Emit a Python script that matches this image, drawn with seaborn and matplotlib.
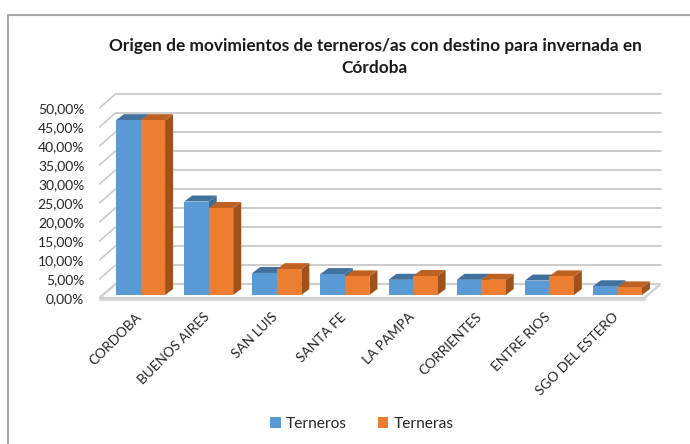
import numpy as np
import pandas as pd
import seaborn as sns
import matplotlib
matplotlib.use("Agg")
import matplotlib.pyplot as plt
from matplotlib.patches import Polygon, Rectangle
from matplotlib.lines import Line2D
from matplotlib.transforms import ScaledTranslation, IdentityTransform
from matplotlib.ticker import FuncFormatter

categories = ["CORDOBA", "BUENOS AIRES", "SAN LUIS", "SANTA FE", "LA PAMPA",
              "CORRIENTES", "ENTRE RIOS", "SGO DEL ESTERO"]
terneros = [46.0, 24.6, 5.8, 5.5, 4.0, 4.0, 3.8, 2.3]
terneras = [46.0, 22.9, 6.8, 4.9, 5.0, 4.0, 4.9, 2.0]
series_names = ["Terneros", "Terneras"]
yticks = [0, 5, 10, 15, 20, 25, 30, 35, 40, 45, 50]
title = "Origen de movimientos de terneros/as con destino para invernada en\nCórdoba"

colors = {"Terneros": "#5B9BD5", "Terneras": "#ED7D31"}
dark_top = {"Terneros": "#41719C", "Terneras": "#BE6224"}
dark_side = {"Terneros": "#3E6D97", "Terneras": "#A0521C"}

df = pd.DataFrame({
    "Origen": categories * 2,
    "Serie": [series_names[0]] * len(categories) + [series_names[1]] * len(categories),
    "Valor": terneros + terneras,
})

sns.set_theme(style="white")
plt.rcParams["font.family"] = ["Lato", "DejaVu Sans"]

W, H = 690, 444
fig = plt.figure(figsize=(W / 100, H / 100), dpi=100)
fig.patch.set_facecolor("white")

left_px, right_px = 106.5, 651.5
y0_px, y50_px = 295, 105
ax = fig.add_axes([left_px / W, (H - y0_px) / H, (right_px - left_px) / W, (y0_px - y50_px) / H])
ax.set_facecolor("none")

sns.barplot(data=df, x="Origen", y="Valor", hue="Serie", palette=colors,
            width=0.72, gap=0, saturation=1, ax=ax, legend=False,
            linewidth=0)
ax.set_xlim(-0.5, len(categories) - 0.5)
ax.set_ylim(0, 50)
ax.set_yticks(yticks)
ax.yaxis.set_major_formatter(FuncFormatter(lambda v, p: f"{v:.2f}%".replace(".", ",")))
ax.set_xlabel("")
ax.set_ylabel("")
for s in ax.spines.values():
    s.set_visible(False)
ax.tick_params(axis="both", length=0)
ax.tick_params(axis="y", labelsize=10, colors="#262626", pad=16)
ax.tick_params(axis="x", labelsize=9.8, colors="#262626", pad=0)
for lab in ax.get_xticklabels():
    lab.set_rotation(45)
    lab.set_ha("right")
    lab.set_va("center")
    lab.set_rotation_mode("anchor")
    lab.set_transform(lab.get_transform() + ScaledTranslation(-1 / 100, -20 / 100, fig.dpi_scale_trans))
for lab in ax.get_yticklabels():
    lab.set_transform(lab.get_transform() + ScaledTranslation(0, -3 / 100, fig.dpi_scale_trans))

front = np.array([-7.0, -3.0])
back = np.array([9.0, 11.0])
grid_c = "#C8C8C8"

def disp(x, y):
    return ax.transData.transform((x, y))

xl, xr = ax.get_xlim()
for v in yticks:
    pl = disp(xl, v)
    pr = disp(xr, v)
    fl = pl + front
    bl = pl + back
    br = pr + back
    if v > 0:
        fig.add_artist(Line2D([bl[0], br[0]], [bl[1], br[1]], transform=IdentityTransform(),
                              color=grid_c, lw=1.3, zorder=1))
    fig.add_artist(Line2D([fl[0], bl[0]], [fl[1], bl[1]], transform=IdentityTransform(),
                          color=grid_c, lw=1.1, zorder=1))
pl = disp(xl, 0); pr = disp(xr, 0)
floor = Polygon([pl + front, pr + front, pr + back, pl + back], closed=True,
                transform=IdentityTransform(), facecolor="white", edgecolor="#CFCFCF",
                lw=1.6, zorder=1)
fig.add_artist(floor)
fig.add_artist(Line2D([(pl + front)[0], (pr + front)[0]], [(pl + front)[1] - 1.5, (pr + front)[1] - 1.5],
                      transform=IdentityTransform(), color="#DADADA", lw=1.6, zorder=1))

# 3D faces of bars, drawn inside the axes in the right order
dx, dy = 8.0, 6.0
n = len(categories)
bars = list(ax.patches[: 2 * n])
for i, p in enumerate(bars):
    k = i // n
    s = series_names[k]
    base_z = 3 + 2 * k
    x0, x1 = p.get_x(), p.get_x() + p.get_width()
    h = p.get_height()
    a = disp(x0, h); b = disp(x1, h); c = disp(x1, 0)
    side = Polygon([c, b, b + [dx, dy], c + [dx, dy]], closed=True, transform=IdentityTransform(),
                   facecolor=dark_side[s], edgecolor="none", zorder=base_z, clip_on=False)
    top = Polygon([a, b, b + [dx, dy], a + [dx, dy]], closed=True, transform=IdentityTransform(),
                  facecolor=dark_top[s], edgecolor="none", zorder=base_z, clip_on=False)
    ax.add_artist(side)
    ax.add_artist(top)
    p.set_zorder(base_z + 0.5)
    p.set_clip_on(False)
ax.set_zorder(3)

fig.text(375 / W, 1 - 57 / H, title, ha="center", va="center", fontsize=12.4,
         fontweight="bold", color="#1a1a1a", linespacing=1.45)

handles = [Rectangle((0, 0), 1, 1, facecolor=colors[s], edgecolor="none") for s in series_names]
fig.legend(handles, series_names, loc="center", bbox_to_anchor=(362 / W, 1 - 424 / H),
           ncol=2, frameon=False, fontsize=11.2, handlelength=0.65, handleheight=0.65,
           handletextpad=0.35, columnspacing=2.0)

fc = "#A8A8A8"
fig.add_artist(Line2D([8 / W, 8 / W], [0, 1 - 15 / H], transform=fig.transFigure, color=fc, lw=1.5))
fig.add_artist(Line2D([8 / W, 1], [1 - 15 / H, 1 - 15 / H], transform=fig.transFigure, color=fc, lw=1.5))

fig.savefig("out.png", dpi=100)
